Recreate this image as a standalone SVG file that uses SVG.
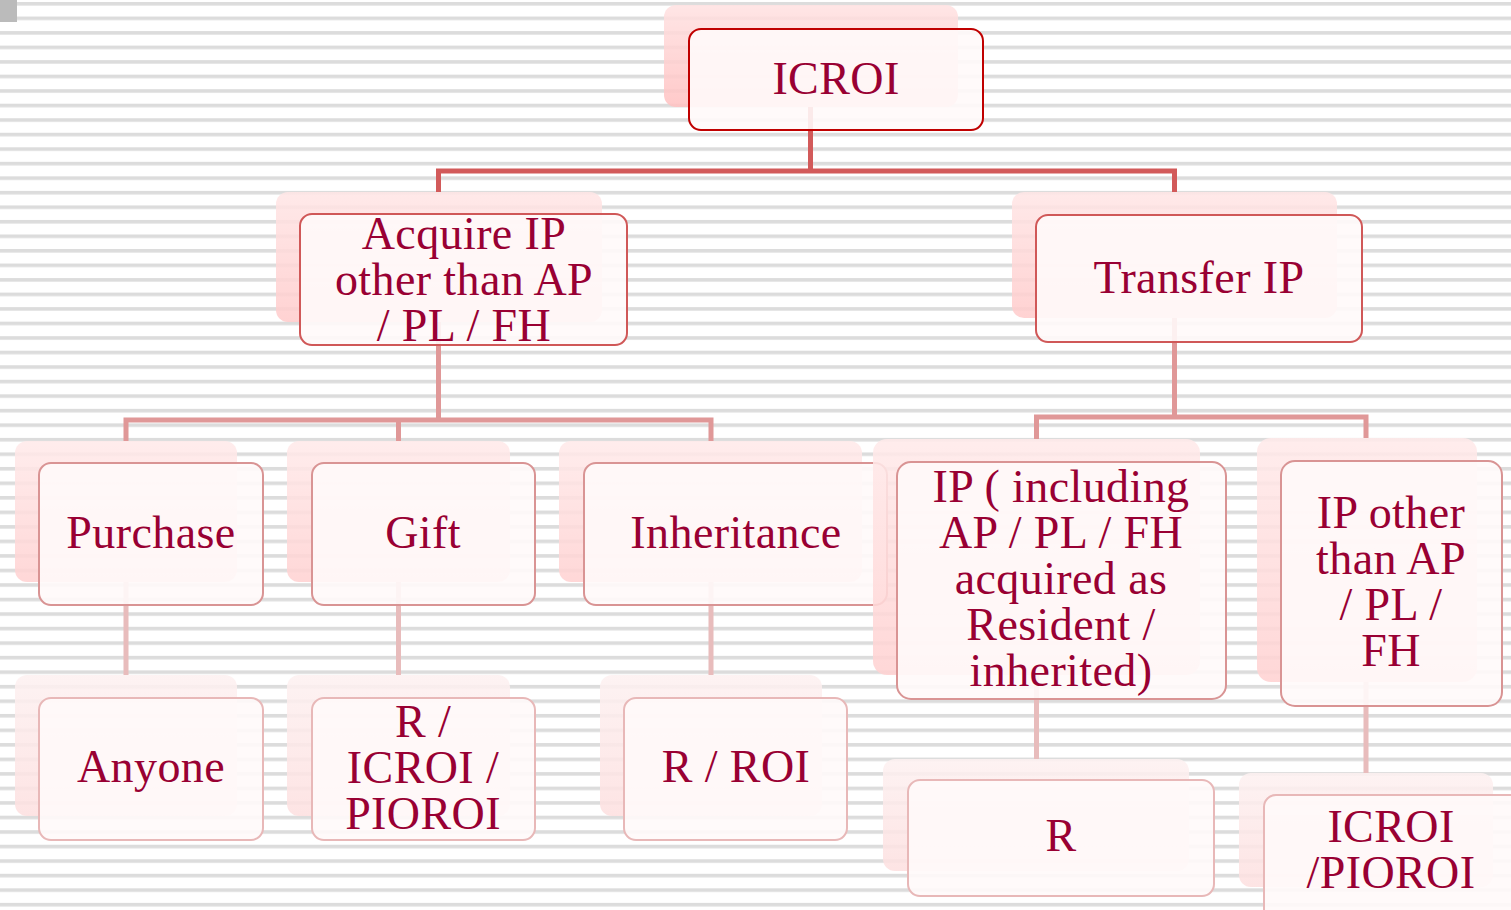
<svg xmlns="http://www.w3.org/2000/svg" width="1511" height="910" viewBox="0 0 1511 910">
<defs>
<pattern id="stripes" patternUnits="userSpaceOnUse" x="0" y="2" width="20" height="14.53">
<rect x="0" y="0" width="20" height="3.6" fill="#dcdcdc"/>
</pattern>
<linearGradient id="sh1" x1="0" y1="0" x2="0" y2="1">
<stop offset="0" stop-color="#ffe2e2"/>
<stop offset="1" stop-color="#ffc2c2"/>
</linearGradient>
<linearGradient id="sh2" x1="0" y1="0" x2="0" y2="1">
<stop offset="0" stop-color="#ffe6e6"/>
<stop offset="1" stop-color="#ffcccc"/>
</linearGradient>
<linearGradient id="sh3" x1="0" y1="0" x2="0" y2="1">
<stop offset="0" stop-color="#ffeaea"/>
<stop offset="1" stop-color="#ffd2d2"/>
</linearGradient>
<linearGradient id="sh4" x1="0" y1="0" x2="0" y2="1">
<stop offset="0" stop-color="#fdf1f1"/>
<stop offset="1" stop-color="#fde0e0"/>
</linearGradient>
</defs>
<style>
.sh{stroke:none;opacity:0.88}
.box{fill:#fffafa;fill-opacity:0.9;stroke-width:2}
.b1{stroke:#c00000}
.b2{stroke:#d05858}
.b3{stroke:#d99494}
.b4{stroke:#e8b8b8}
.t{font-family:"Liberation Serif","Times New Roman",serif;font-size:46px;letter-spacing:0.4px;fill:#990033;text-anchor:middle}
.c1{stroke:#d25a5a;stroke-width:5;fill:none}
.c2{stroke:#e09898;stroke-width:5;fill:none}
.c3{stroke:#e8bcbc;stroke-width:5;fill:none}
</style>
<rect x="0" y="0" width="1511" height="910" fill="#ffffff"/>
<rect x="0" y="0" width="1511" height="910" fill="url(#stripes)"/>
<rect x="0" y="0" width="17" height="22" fill="#bbbbbb"/>

<g id="connectors">
<path class="c1" d="M810.5,107 V171 M438.5,171 H1174.5 M438.5,168.5 V192 M1174.5,168.5 V192"/>
<path class="c2" d="M438.5,322 V420 M126,420 H711 M126,417.5 V441 M398.5,417.5 V441 M711,417.5 V441"/>
<path class="c2" d="M1174.5,318 V417 M1036.5,417 H1366 M1036.5,414.5 V439 M1366,414.5 V438"/>
<path class="c3" d="M126,582 V675 M398.5,582 V675 M711,582 V675 M1036.5,675 V759 M1366,682 V773"/>
</g>

<g id="n-icroi">
<rect class="sh" x="664" y="5" width="294" height="102" rx="12" fill="url(#sh1)"/>
<rect class="box b1" x="689" y="29" width="294" height="101" rx="12"/>
<text class="t" x="836" y="94">ICROI</text>
</g>

<g id="n-acquire">
<rect class="sh" x="276" y="192" width="326" height="130" rx="12" fill="url(#sh2)"/>
<rect class="box b2" x="300" y="214" width="327" height="131" rx="12"/>
<text class="t" x="464" y="249"><tspan x="464">Acquire IP</tspan><tspan x="464" dy="46">other than AP</tspan><tspan x="464" dy="46">/ PL / FH</tspan></text>
</g>

<g id="n-transfer">
<rect class="sh" x="1012" y="192" width="325" height="126" rx="12" fill="url(#sh2)"/>
<rect class="box b2" x="1036" y="215" width="326" height="127" rx="12"/>
<text class="t" x="1199" y="293">Transfer IP</text>
</g>

<g id="n-purchase">
<rect class="sh" x="15" y="441" width="222" height="141" rx="12" fill="url(#sh3)"/>
<rect class="box b3" x="39" y="463" width="224" height="142" rx="12"/>
<text class="t" x="151" y="548">Purchase</text>
</g>

<g id="n-gift">
<rect class="sh" x="287" y="441" width="223" height="141" rx="12" fill="url(#sh3)"/>
<rect class="box b3" x="312" y="463" width="223" height="142" rx="12"/>
<text class="t" x="423" y="548">Gift</text>
</g>

<g id="n-inheritance">
<rect class="sh" x="559" y="441" width="303" height="141" rx="12" fill="url(#sh3)"/>
<rect class="box b3" x="584" y="463" width="303" height="142" rx="12"/>
<text class="t" x="736" y="548">Inheritance</text>
</g>

<g id="n-including">
<rect class="sh" x="873" y="439" width="327" height="236" rx="14" fill="url(#sh3)"/>
<rect class="box b3" x="897" y="462" width="329" height="237" rx="14"/>
<text class="t" x="1061" y="502"><tspan x="1061">IP ( including</tspan><tspan x="1061" dy="46">AP / PL / FH</tspan><tspan x="1061" dy="46">acquired as</tspan><tspan x="1061" dy="46">Resident /</tspan><tspan x="1061" dy="46">inherited)</tspan></text>
</g>

<g id="n-otherthan">
<rect class="sh" x="1257" y="438" width="220" height="244" rx="14" fill="url(#sh3)"/>
<rect class="box b3" x="1281" y="461" width="221" height="245" rx="14"/>
<text class="t" x="1391" y="528"><tspan x="1391">IP other</tspan><tspan x="1391" dy="46">than AP</tspan><tspan x="1391" dy="46">/ PL /</tspan><tspan x="1391" dy="46">FH</tspan></text>
</g>

<g id="n-anyone">
<rect class="sh" x="15" y="675" width="222" height="141" rx="12" fill="url(#sh4)"/>
<rect class="box b4" x="39" y="698" width="224" height="142" rx="12"/>
<text class="t" x="151" y="782">Anyone</text>
</g>

<g id="n-ricroi">
<rect class="sh" x="287" y="675" width="223" height="141" rx="12" fill="url(#sh4)"/>
<rect class="box b4" x="312" y="698" width="223" height="142" rx="12"/>
<text class="t" x="423" y="737"><tspan x="423">R /</tspan><tspan x="423" dy="46">ICROI /</tspan><tspan x="423" dy="46">PIOROI</tspan></text>
</g>

<g id="n-rroi">
<rect class="sh" x="600" y="675" width="222" height="141" rx="12" fill="url(#sh4)"/>
<rect class="box b4" x="624" y="698" width="223" height="142" rx="12"/>
<text class="t" x="736" y="782">R / ROI</text>
</g>

<g id="n-r">
<rect class="sh" x="883" y="759" width="306" height="112" rx="12" fill="url(#sh4)"/>
<rect class="box b4" x="908" y="780" width="306" height="116" rx="12"/>
<text class="t" x="1061" y="851">R</text>
</g>

<g id="n-icroi-pioroi">
<rect class="sh" x="1239" y="773" width="254" height="114" rx="12" fill="url(#sh4)"/>
<rect class="box b4" x="1264" y="795" width="262" height="130" rx="12"/>
<text class="t" x="1391" y="842"><tspan x="1391">ICROI</tspan><tspan x="1391" dy="46">/PIOROI</tspan></text>
</g>
</svg>
